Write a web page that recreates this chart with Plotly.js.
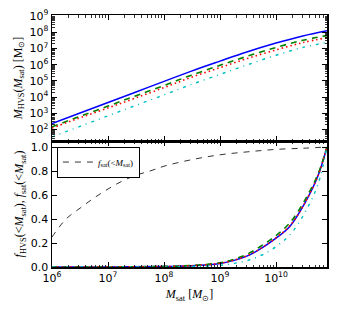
<!DOCTYPE html>
<html><head><meta charset="utf-8">
<script src="https://cdn.plot.ly/plotly-3.0.1.min.js"></script>
<style>html,body{margin:0;padding:0;background:#fff;}#chart{width:347px;height:315px;}</style>
</head><body><div id="chart"></div>
<script>
// ---- data ----
const massTop = [1e6, 3e6, 1e7, 3e7, 1e8, 3e8, 1e9, 3e9, 1e10, 3e10, 8.1e10];
const mhvsBlue  = [234, 977, 4680, 19500, 93300, 389000, 1.66e6, 6.03e6, 2.14e7, 5.89e7, 1.23e8];
const mhvsGreen = [148, 617, 2820, 11500, 52500, 219000, 9.12e5, 3.24e6, 1.15e7, 3.16e7, 6.17e7];
const mhvsRed   = [126, 501, 2140, 8510, 38900, 162000, 6.61e5, 2.34e6, 8.13e6, 2.29e7, 4.57e7];
const mhvsCyan  = [35.5, 148, 708, 2950, 13800, 58900, 2.51e5, 9.55e5, 3.8e6, 1.15e7, 2.34e7];

const massBot = [1e6, 1e7, 1e8, 3.16e8, 1e9, 1.78e9, 3.16e9, 5.62e9, 1e10, 1.78e10, 3.16e10, 5.62e10, 8.1e10];
const fBlue  = [0, 0.0005, 0.004, 0.010, 0.030, 0.055, 0.095, 0.160, 0.240, 0.340, 0.520, 0.760, 1.0];
const fGreen = [0, 0.0008, 0.005, 0.013, 0.035, 0.065, 0.110, 0.180, 0.262, 0.370, 0.545, 0.775, 1.0];
const fRed   = [0, 0.0005, 0.004, 0.011, 0.031, 0.057, 0.097, 0.162, 0.243, 0.345, 0.522, 0.762, 1.0];
const fCyan  = [0, 0.0001, 0.001, 0.004, 0.014, 0.030, 0.055, 0.100, 0.170, 0.270, 0.440, 0.690, 1.0];

const massSat = [1e6, 1.78e6, 3.16e6, 5.62e6, 1e7, 1.78e7, 3.16e7, 5.62e7, 1e8, 3.16e8, 1e9, 3.16e9, 1e10, 3.16e10, 8.1e10];
const fSat = [0.25, 0.40, 0.49, 0.575, 0.65, 0.715, 0.765, 0.80, 0.84, 0.895, 0.935, 0.96, 0.98, 0.99, 1.0];

const xTickVals = [1e6, 1e7, 1e8, 1e9, 1e10];
const xTickText = ['10<sup>6</sup>', '10<sup>7</sup>', '10<sup>8</sup>', '10<sup>9</sup>', '10<sup>10</sup>'];
const yTopTickVals = [1e2, 1e3, 1e4, 1e5, 1e6, 1e7, 1e8, 1e9];
const yTopTickText = ['10<sup>2</sup>', '10<sup>3</sup>', '10<sup>4</sup>', '10<sup>5</sup>', '10<sup>6</sup>', '10<sup>7</sup>', '10<sup>8</sup>', '10<sup>9</sup>'];
const yBotTickVals = [0, 0.2, 0.4, 0.6, 0.8, 1.0];
const yBotTickText = ['0.0', '0.2', '0.4', '0.6', '0.8', '1.0'];

// ---- traces ----
const styles = [
  {color: '#0000ff', dash: 'solid', width: 1.5},
  {color: '#008000', dash: '6px,5px', width: 1.6},
  {color: '#ff0000', dash: '1.5px,3px', width: 1.6},
  {color: '#00bfbf', dash: '3px,5px,1px,5px', width: 1.4}
];
const topSeries = [mhvsBlue, mhvsGreen, mhvsRed, mhvsCyan];
const botSeries = [fBlue, fGreen, fRed, fCyan];
const traces = [];
topSeries.forEach((ys, i) => traces.push({
  x: massTop, y: ys, xaxis: 'x', yaxis: 'y', mode: 'lines', showlegend: false,
  line: {color: styles[i].color, dash: styles[i].dash, width: styles[i].width, shape: 'spline'}
}));
botSeries.forEach((ys, i) => traces.push({
  x: massBot, y: ys, xaxis: 'x2', yaxis: 'y2', mode: 'lines', showlegend: false,
  line: {color: styles[i].color, dash: styles[i].dash, width: styles[i].width, shape: 'spline'}
}));
traces.push({
  x: massSat, y: fSat, xaxis: 'x2', yaxis: 'y2', mode: 'lines', showlegend: true,
  name: '<i>f</i><sub>sat</sub>(<<i>M</i><sub>sat</sub>)',
  line: {color: '#000', dash: '6px,6px', width: 0.8, shape: 'spline'}
});

const tickFont = {family: 'DejaVu Sans', size: 11, color: '#000'};
const titleFont = {family: 'Liberation Serif', size: 12, color: '#000'};
const xRange = [6, 10.91];
const common = {
  showline: true, linecolor: '#000', linewidth: 1.5, mirror: 'allticks',
  ticks: 'inside', ticklen: 5, tickwidth: 1, tickcolor: '#000',
  showgrid: false, zeroline: false, tickfont: tickFont
};
const minorLog = {ticks: 'inside', ticklen: 2.5, tickwidth: 0.8, tickcolor: '#000', dtick: 'D1', showgrid: false};

const layout = {
  width: 347, height: 315,
  margin: {l: 52, r: 20, t: 15, b: 48},
  paper_bgcolor: '#fff', plot_bgcolor: '#fff',
  showlegend: true,
  legend: {x: 0.018, y: 0.478, xanchor: 'left', yanchor: 'top', bordercolor: '#000', borderwidth: 1,
    bgcolor: '#fff', font: {family: 'Liberation Serif', size: 9, color: '#000'}, itemwidth: 30, tracegroupgap: 0},
  xaxis: Object.assign({}, common, {type: 'log', range: xRange, domain: [0, 1], anchor: 'y',
    tickvals: xTickVals, ticktext: xTickText, showticklabels: false, minor: minorLog}),
  yaxis: Object.assign({}, common, {type: 'log', range: [1.3, 9.06], domain: [0.5, 1], anchor: 'x',
    tickvals: yTopTickVals, ticktext: yTopTickText, minor: minorLog,
    title: {text: '<i>M</i><sub>HVS</sub>(<i>M</i><sub>sat</sub>) [M<sub>⊙</sub>]', font: titleFont, standoff: 4}}),
  xaxis2: Object.assign({}, common, {type: 'log', range: xRange, domain: [0, 1], anchor: 'y2',
    tickvals: xTickVals, ticktext: xTickText, minor: minorLog,
    title: {text: '<i>M</i><sub>sat</sub> [<i>M</i><sub>⊙</sub>]', font: titleFont, standoff: 6}}),
  yaxis2: Object.assign({}, common, {type: 'linear', range: [0, 1.05], domain: [0, 0.5], anchor: 'x2',
    tickvals: yBotTickVals, ticktext: yBotTickText,
    title: {text: '<i>f</i><sub>HVS</sub>(<<i>M</i><sub>sat</sub>), <i>f</i><sub>sat</sub>(<<i>M</i><sub>sat</sub>)', font: titleFont, standoff: 4}})
};

Plotly.newPlot('chart', traces, layout, {staticPlot: true, displayModeBar: false});
</script>
</body></html>
